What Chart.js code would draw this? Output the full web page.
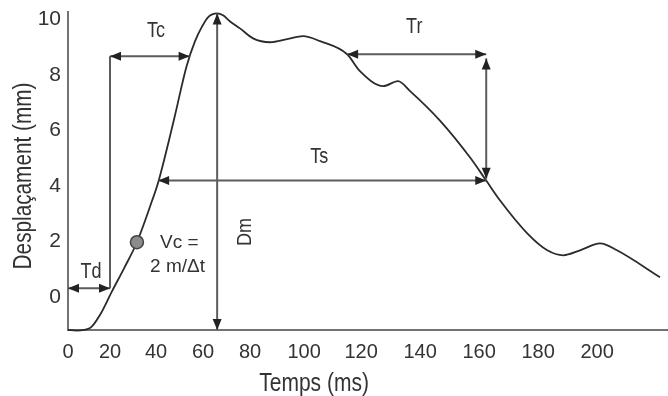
<!DOCTYPE html>
<html>
<head>
<meta charset="utf-8">
<script src="https://cdn.jsdelivr.net/npm/chart.js@4.4.1/dist/chart.umd.min.js"></script>
<style>
  html, body { margin: 0; padding: 0; background: #fff; }
  #wrap { width: 668px; height: 396px; }
</style>
</head>
<body>
<div id="wrap"><canvas id="curveChart" width="668" height="396"></canvas></div>
<script>
// displacement curve (time in ms, displacement in mm)
const timeMs = [0, 4, 10.5, 15.2, 20.9, 26.1, 31.7, 38.3, 40.9, 47.7, 53, 56.6, 59.6, 62.1, 66,
  68.5, 71.5, 75.7, 81.1, 87.4, 93.7, 99.6, 105.6, 115.1, 119.6, 127.5, 132.5, 136.6, 146.8,
  157, 162.4, 167.1, 176.3, 183.1, 188.5, 194.2, 201, 206.7, 221.3];
const dispMm = [-1.4, -1.42, -1.33, -0.86, 0, 0.82, 1.76, 3.26, 3.91, 6.2, 8.1, 9.0, 9.53, 9.86, 10.0,
  9.93, 9.71, 9.46, 9.1, 8.96, 9.07, 9.18, 9.0, 8.53, 7.92, 7.38, 7.56, 7.2, 6.13,
  4.8, 3.98, 3.26, 2.08, 1.47, 1.29, 1.47, 1.72, 1.47, 0.5];

// the Vc marker
const vcPoint = [31.7, 1.76];

const xTicks = [0, 20, 40, 60, 80, 100, 120, 140, 160, 180, 200];
const yTicks = [0, 2, 4, 6, 8, 10];

// double arrows [x1, y1, x2, y2] in ms / mm
const arrowsMs = [
  [0, 0.1, 20, 0.1],          // Td
  [20, 8.46, 54.3, 8.46],     // Tc
  [66, 10, 66, -1.4],         // Dm
  [40.9, 3.98, 162.4, 3.98],  // Ts
  [115.1, 8.53, 162.4, 8.53], // Tr
  [162.4, 8.38, 162.4, 4.05]  // Tr drop
];
// plain guide line (no heads)
const guideLines = [[20, 0.1, 20, 8.46]];

const noteTexts = ["Tc", "Tr", "Ts", "Td", "Vc =", "2 m/\u0394t", "Dm"];
// text anchors: centre of the baseline (Vc lines: start of the baseline)
const noteAnchors = [[40, 9.15], [138, 9.29], [105.3, 4.61], [11, 0.47], [41.7, 1.55], [37.4, 0.68], [80.4, 2.13]];

// the printed time axis is not evenly spaced: width of each 20 ms step
const xStepWidths = [42, 46, 47, 47, 54, 57, 59, 59, 59, 59];

function warpOffset(v) {
  let acc = 0;
  for (let i = 0; i < xStepWidths.length; i++) {
    const a = i * 20;
    if (v <= a + 20) return acc + (v - a) / 20 * xStepWidths[i];
    acc += xStepWidths[i];
  }
  const last = xStepWidths[xStepWidths.length - 1];
  return acc + (v - xStepWidths.length * 20) / 20 * last;
}

class WarpedScale extends Chart.LinearScale {
  getPixelForValue(value) {
    if (value === null || isNaN(value)) return NaN;
    const lo = warpOffset(this.min);
    const hi = warpOffset(this.max);
    return this.getPixelForDecimal((warpOffset(value) - lo) / (hi - lo));
  }
  getValueForPixel(pixel) {
    let a = this.min, b = this.max;
    for (let i = 0; i < 40; i++) {
      const m = (a + b) / 2;
      if (this.getPixelForValue(m) < pixel) a = m; else b = m;
    }
    return (a + b) / 2;
  }
}
WarpedScale.id = "warped";
WarpedScale.defaults = Chart.LinearScale.defaults;
Chart.register(WarpedScale);

const SANS = "'Liberation Sans', Arial, Helvetica, sans-serif";
const INK = "#333";

function drawArrowHead(ctx, x, y, ang) {
  const len = 11, half = 4.5;
  ctx.beginPath();
  ctx.moveTo(x, y);
  ctx.lineTo(x - len * Math.cos(ang) + half * Math.sin(ang), y - len * Math.sin(ang) - half * Math.cos(ang));
  ctx.lineTo(x - len * Math.cos(ang) - half * Math.sin(ang), y - len * Math.sin(ang) + half * Math.cos(ang));
  ctx.closePath();
  ctx.fill();
}

// the figure uses a condensed face, so squeeze text horizontally
function squeezedText(ctx, text, px, py, sx, rot) {
  ctx.save();
  ctx.translate(px, py);
  if (rot) ctx.rotate(rot);
  ctx.scale(sx, 1);
  ctx.fillText(text, 0, 0);
  ctx.restore();
}

const notesPlugin = {
  id: "notes",
  afterDatasetsDraw(chart) {
    const { ctx, chartArea, scales: { x, y } } = chart;
    ctx.save();
    ctx.strokeStyle = "#5c5c5c";
    ctx.fillStyle = "#222";
    ctx.lineWidth = 2;

    guideLines.forEach(([x1, y1, x2, y2]) => {
      ctx.beginPath();
      ctx.moveTo(x.getPixelForValue(x1), y.getPixelForValue(y1));
      ctx.lineTo(x.getPixelForValue(x2), y.getPixelForValue(y2));
      ctx.stroke();
    });

    arrowsMs.forEach(([x1, y1, x2, y2]) => {
      const px1 = x.getPixelForValue(x1), py1 = y.getPixelForValue(y1);
      const px2 = x.getPixelForValue(x2), py2 = y.getPixelForValue(y2);
      const ang = Math.atan2(py2 - py1, px2 - px1);
      ctx.beginPath();
      ctx.moveTo(px1, py1);
      ctx.lineTo(px2, py2);
      ctx.stroke();
      drawArrowHead(ctx, px2, py2, ang);
      drawArrowHead(ctx, px1, py1, ang + Math.PI);
    });

    ctx.fillStyle = INK;
    ctx.textBaseline = "alphabetic";
    noteTexts.forEach((t, i) => {
      const [ax, ay] = noteAnchors[i];
      const px = x.getPixelForValue(ax), py = y.getPixelForValue(ay);
      if (t === "Dm") {
        ctx.textAlign = "center";
        ctx.font = "20px " + SANS;
        squeezedText(ctx, t, px, py, 0.9, -Math.PI / 2);
      } else if (t.startsWith("T")) {
        ctx.textAlign = "center";
        ctx.font = "22px " + SANS;
        squeezedText(ctx, t, px, py, 0.82, 0);
      } else {
        ctx.textAlign = "left";
        ctx.font = "19px " + SANS;
        squeezedText(ctx, t, px, py, 1, 0);
      }
    });

    // axis titles (the x title sits left of the axis centre in the original)
    ctx.textAlign = "center";
    ctx.font = "25px " + SANS;
    squeezedText(ctx, "Temps (ms)", x.getPixelForValue(103.5), chartArea.bottom + 61, 0.84, 0);
    squeezedText(ctx, "Desplaçament (mm)", 31, (chartArea.top + chartArea.bottom) / 2 + 5, 0.83, -Math.PI / 2);
    ctx.restore();
  }
};

new Chart(document.getElementById("curveChart"), {
  type: "line",
  data: {
    datasets: [
      {
        type: "scatter",
        data: [{ x: vcPoint[0], y: vcPoint[1] }],
        pointRadius: 6.5,
        pointBackgroundColor: "#8c8c8c",
        pointBorderColor: "#444",
        pointBorderWidth: 1.5,
        order: 0
      },
      {
        data: timeMs.map((t, i) => ({ x: t, y: dispMm[i] })),
        borderColor: "#2b2b2b",
        borderWidth: 1.8,
        pointRadius: 0,
        cubicInterpolationMode: "monotone",
        fill: false,
        clip: false,
        order: 1
      }
    ]
  },
  options: {
    responsive: false,
    animation: false,
    devicePixelRatio: 1,
    layout: { autoPadding: false, padding: { top: 12, right: 0, left: 0, bottom: 0 } },
    plugins: { legend: { display: false }, tooltip: { enabled: false } },
    scales: {
      x: {
        type: "warped",
        min: 0,
        max: 224,
        afterBuildTicks(scale) { scale.ticks = xTicks.map((v) => ({ value: v })); },
        afterFit(scale) {
          scale.height = 66;
          scale.paddingLeft = 0;
          scale.paddingRight = 0;
        },
        grid: { display: false, drawTicks: false },
        border: { color: "#737373", width: 2 },
        ticks: {
          color: INK,
          padding: 12,
          maxRotation: 0,
          autoSkip: false,
          font: { family: SANS, size: 20, lineHeight: 1 }
        }
      },
      y: {
        type: "linear",
        min: -1.4,
        max: 10.05,
        afterBuildTicks(scale) { scale.ticks = yTicks.map((v) => ({ value: v })); },
        afterFit(scale) {
          scale.width = 68;
          scale.paddingTop = 0;
          scale.paddingBottom = 0;
        },
        grid: { display: false, drawTicks: false },
        border: { color: "#737373", width: 2 },
        ticks: {
          color: INK,
          padding: 7,
          labelOffset: 6,
          autoSkip: false,
          font: { family: SANS, size: 21, lineHeight: 1 }
        }
      }
    }
  },
  plugins: [notesPlugin]
});
</script>
</body>
</html>
